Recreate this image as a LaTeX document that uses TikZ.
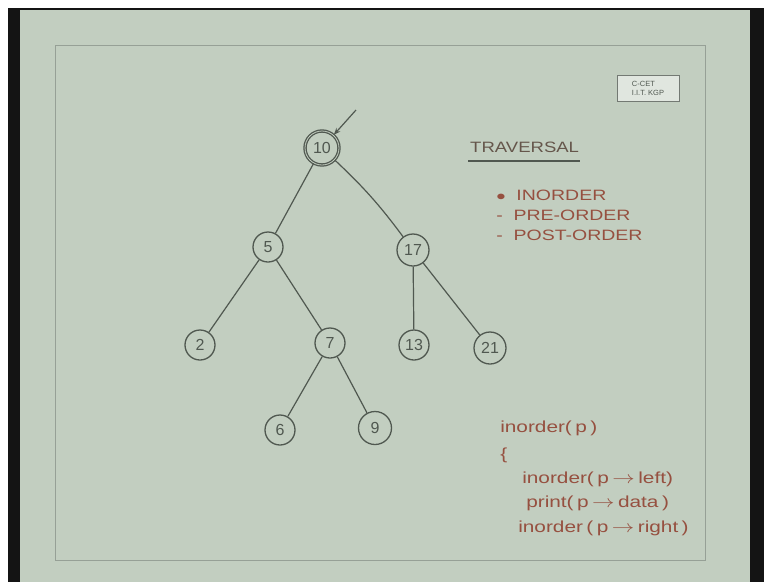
\documentclass[tikz,border=0pt]{standalone}
\usepackage{fontspec}
\setmainfont{Liberation Sans}
\usetikzlibrary{arrows.meta}
\definecolor{slide}{RGB}{194,206,192}
\definecolor{ink}{RGB}{80,88,80}
\definecolor{redink}{RGB}{150,80,64}
\definecolor{frameline}{RGB}{150,160,150}
\tikzset{
  tnode/.style={circle,draw=ink,line width=1.3pt,minimum size=30pt,inner sep=0pt,font=\fontsize{16}{16}\selectfont,text=ink},
  edge/.style={draw=ink,line width=1.2pt},
  red text/.style={text=redink,font=\fontsize{15}{17}\selectfont,anchor=west,inner sep=0pt,xscale=1.3},
  code text/.style={text=redink,font=\fontsize{16}{18}\selectfont,anchor=west,inner sep=0pt,xscale=1.3},
}
\begin{document}
\begin{tikzpicture}[x=1pt,y=-1pt]
\useasboundingbox (0,0) rectangle (764,582);
\fill[white] (0,0) rectangle (764,582);
\fill[black!92] (8,8) rectangle (764,582);
\fill[slide] (20,10) rectangle (750,582);
\draw[frameline,line width=0.8pt] (55,45) rectangle (705,560);
% logo
\node[draw=ink!80,line width=0.9pt,fill=slide!50!white,align=left,inner sep=3pt,font=\fontsize{7.5}{9}\selectfont,text=ink,minimum width=62pt,minimum height=26pt] (logo) at (648,88) {C-CET\\I.I.T. KGP};
% tree
\node[tnode,minimum size=34pt,double=slide,double distance=0.8pt] (n10) at (322,148) {10};
\node[tnode] (n5) at (268,247) {5};
\node[tnode,minimum size=32pt] (n17) at (413,250) {17};
\node[tnode] (n2) at (200,345) {2};
\node[tnode] (n7) at (330,343) {7};
\node[tnode] (n13) at (414,345) {13};
\node[tnode,minimum size=32pt] (n21) at (490,348) {21};
\node[tnode] (n6) at (280,430) {6};
\node[tnode,minimum size=33pt] (n9) at (375,428) {9};
\coordinate (arr) at (356,110);
\draw[edge,-{Stealth[length=7pt]}] (arr) -- (n10);
\draw[edge] (n10) -- (n5);
\draw[edge] (n10) to[bend left=5] (n17);
\draw[edge] (n5) -- (n2);
\draw[edge] (n5) -- (n7);
\draw[edge] (n17) -- (n13);
\draw[edge] (n17) -- (n21);
\draw[edge] (n7) -- (n6);
\draw[edge] (n7) -- (n9);
% traversal text
\node[red text,text=ink!70!redink,xscale=0.95] (trav) at (470,147) {TRAVERSAL};
\draw[ink,line width=1.3pt] (468,161) -- (580,161);
\node[red text] (l1) at (496,195) {$\bullet$\ \ INORDER};
\node[red text] (l2) at (496,215) {-\ \ PRE-ORDER};
\node[red text] (l3) at (496,235) {-\ \ POST-ORDER};
% code
\node[code text] (c1) at (500,428) {inorder(\,p\,)};
\node[code text] (c2) at (500,455) {\{};
\node[code text] (c3) at (522,479) {inorder(\,p\,$\rightarrow$\,left)};
\node[code text] (c4) at (526,503) {print(\,p\,$\rightarrow$\,data\,)};
\node[code text] (c5) at (518,528) {inorder\,(\,p\,$\rightarrow$\,right\,)};
\end{tikzpicture}
\end{document}
